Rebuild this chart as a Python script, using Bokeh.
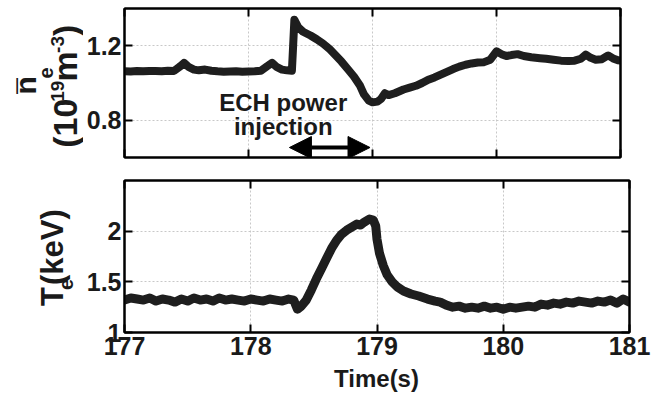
import math
from bokeh.plotting import figure
from bokeh.models import (Range1d, FixedTicker, LinearAxis, Label, Arrow, NormalHead,
                          CustomJSTickFormatter)
from bokeh.layouts import column, row
from bokeh.embed import file_html
from bokeh.resources import INLINE

# ---------------- data ----------------
x_ticks = [177, 178, 179, 180, 181]
ne_ticks = [0.8, 1.2]
te_ticks = [1, 1.5, 2]

t_ne = [177.00, 177.05, 177.10, 177.15, 177.20, 177.25, 177.30, 177.35, 177.40, 177.45,
        177.48, 177.52, 177.56, 177.60, 177.65, 177.70, 177.75, 177.80, 177.85, 177.90,
        177.95, 178.00, 178.05, 178.10, 178.15, 178.19, 178.23, 178.27, 178.31, 178.35,
        178.36, 178.37, 178.40, 178.44, 178.50, 178.55, 178.60, 178.65, 178.70, 178.75,
        178.80, 178.85, 178.90, 178.93, 178.97, 179.00, 179.04, 179.07, 179.10, 179.13,
        179.18, 179.25, 179.30, 179.35, 179.40, 179.45, 179.50, 179.55, 179.60, 179.65,
        179.70, 179.75, 179.80, 179.85, 179.90, 179.95, 180.00, 180.04, 180.08, 180.12,
        180.17, 180.22, 180.28, 180.35, 180.40, 180.46, 180.52, 180.58, 180.63, 180.68,
        180.72, 180.76, 180.80, 180.85, 180.90, 180.94, 180.98, 181.00]
ne = [1.063, 1.062, 1.064, 1.063, 1.065, 1.064, 1.063, 1.066, 1.065, 1.090,
      1.108, 1.085, 1.072, 1.068, 1.072, 1.066, 1.063, 1.061, 1.062, 1.063,
      1.061, 1.062, 1.063, 1.066, 1.090, 1.108, 1.085, 1.072, 1.068, 1.066,
      1.200, 1.340, 1.300, 1.275, 1.255, 1.235, 1.212, 1.185, 1.150, 1.115,
      1.075, 1.035, 0.985, 0.940, 0.905, 0.896, 0.900, 0.915, 0.945, 0.935,
      0.945, 0.965, 0.975, 0.985, 1.000, 1.018, 1.030, 1.045, 1.060, 1.075,
      1.088, 1.098, 1.105, 1.110, 1.112, 1.125, 1.170, 1.155, 1.145, 1.150,
      1.155, 1.145, 1.138, 1.133, 1.130, 1.125, 1.120, 1.118, 1.120, 1.130,
      1.152, 1.135, 1.125, 1.128, 1.148, 1.132, 1.122, 1.120]

t_te = [177.00, 177.05, 177.10, 177.15, 177.20, 177.25, 177.30, 177.35, 177.40, 177.45,
        177.50, 177.55, 177.60, 177.65, 177.70, 177.75, 177.80, 177.85, 177.90, 177.95,
        178.00, 178.05, 178.10, 178.15, 178.20, 178.25, 178.30, 178.34, 178.37, 178.40,
        178.44, 178.48, 178.52, 178.56, 178.60, 178.64, 178.68, 178.72, 178.76, 178.80,
        178.84, 178.87, 178.90, 178.94, 178.97, 178.99, 179.00, 179.02, 179.05, 179.08,
        179.12, 179.16, 179.21, 179.27, 179.33, 179.40, 179.46, 179.50, 179.55, 179.60,
        179.65, 179.70, 179.75, 179.80, 179.85, 179.90, 179.95, 180.00, 180.05, 180.10,
        180.15, 180.20, 180.25, 180.30, 180.35, 180.40, 180.45, 180.50, 180.55, 180.60,
        180.65, 180.70, 180.75, 180.80, 180.85, 180.90, 180.95, 181.00]
te = [1.32, 1.34, 1.33, 1.32, 1.34, 1.31, 1.33, 1.32, 1.30, 1.33,
      1.31, 1.34, 1.32, 1.33, 1.31, 1.34, 1.32, 1.33, 1.32, 1.31,
      1.33, 1.32, 1.31, 1.33, 1.32, 1.31, 1.33, 1.32, 1.23, 1.26,
      1.32, 1.42, 1.53, 1.63, 1.73, 1.83, 1.91, 1.97, 2.01, 2.04,
      2.07, 2.06, 2.09, 2.12, 2.11, 2.05, 1.92, 1.78, 1.66, 1.57,
      1.50, 1.45, 1.41, 1.38, 1.36, 1.33, 1.31, 1.30, 1.27, 1.25,
      1.26, 1.24, 1.25, 1.24, 1.26, 1.24, 1.25, 1.23, 1.25, 1.24,
      1.25, 1.26, 1.25, 1.28, 1.27, 1.29, 1.28, 1.30, 1.29, 1.31,
      1.30, 1.29, 1.31, 1.30, 1.32, 1.29, 1.33, 1.30]

ech_start, ech_end = 178.33, 178.98

FONT = "Liberation Sans"
INK = "#1a1a1a"
LINE = "#1e1e1e"
LW = 83          # width of the strip that holds the rotated y-axis titles
W = 655          # total width
H1, H2, H3 = 172, 192, 32
MID = 0.3465     # text-box centre above the baseline, in em


def style(p, yticks, show_x_labels):
    p.outline_line_color = "black"
    p.outline_line_width = 2
    p.xgrid.ticker = FixedTicker(ticks=x_ticks)
    p.ygrid.ticker = FixedTicker(ticks=yticks)
    for g in (p.xgrid, p.ygrid):
        g.grid_line_color = "#c8c8c8"
        g.grid_line_dash = "2 2"
        g.grid_line_width = 1
    for ax in p.xaxis + p.yaxis:
        ax.major_tick_in = 8
        ax.major_tick_out = 0
        ax.minor_tick_line_color = None
        ax.major_tick_line_width = 2
        ax.axis_line_width = 2
        ax.major_label_text_font = FONT
        ax.major_label_text_font_style = "bold"
        ax.major_label_text_font_size = "25px"
        ax.major_label_text_color = INK
    p.xaxis.ticker = FixedTicker(ticks=x_ticks)
    p.yaxis.ticker = FixedTicker(ticks=yticks)
    p.yaxis.major_label_standoff = 3
    p.xaxis.major_label_standoff = 4
    if not show_x_labels:
        p.xaxis.formatter = CustomJSTickFormatter(code="return ''")
        p.xaxis.major_label_text_font_size = "1px"
        p.xaxis.major_label_standoff = 0
    # mirrored axes with inward ticks, no labels
    for loc, tk in (("above", x_ticks), ("right", yticks)):
        ax = LinearAxis(ticker=FixedTicker(ticks=tk), major_tick_in=8, major_tick_out=0,
                        major_tick_line_width=2, minor_tick_line_color=None,
                        axis_line_width=2, major_label_text_font_size="1px",
                        formatter=CustomJSTickFormatter(code="return ''"),
                        major_label_standoff=0)
        p.add_layout(ax, loc)


def clabel(p, x, y, text, size, angle=0.0):
    p.add_layout(Label(x=x, y=y, text=text, text_font=FONT, text_font_style="bold",
                       text_font_size=f"{size}px", text_color=INK, angle=angle,
                       text_align="center", text_baseline="middle"))


class Strip:
    """blank canvas for titles; positions given in page pixels"""
    def __init__(self, width, height, x_left, y_top):
        self.x0, self.y0, self.h = x_left, y_top, height
        s = figure(width=width, height=height, output_backend="svg", toolbar_location=None,
                   x_range=Range1d(0, width), y_range=Range1d(0, height),
                   x_axis_type=None, y_axis_type=None,
                   min_border_left=0, min_border_right=0, min_border_top=0,
                   min_border_bottom=0)
        s.grid.visible = False
        s.outline_line_color = None
        self.fig = s

    def up(self, base_x, start_y, text, size, adv):
        """text rotated 90deg, baseline at page x base_x, starting at page y start_y"""
        cx = base_x - MID * size
        cy = start_y - adv * size / 2
        clabel(self.fig, cx - self.x0, self.y0 + self.h - cy, text, size, math.pi / 2)

    def flat(self, cx, base_y, text, size):
        cy = base_y - MID * size
        clabel(self.fig, cx - self.x0, self.y0 + self.h - cy, text, size)


# ---------------- top panel ----------------
p1 = figure(width=W - LW, height=H1, output_backend="svg", toolbar_location=None,
            x_range=Range1d(177, 181), y_range=Range1d(0.6, 1.4),
            min_border_left=122 - LW, min_border_right=W - 620, min_border_top=8,
            min_border_bottom=H1 - 157)
style(p1, ne_ticks, False)
p1.line(t_ne, ne, line_width=8, color=LINE, line_join="round", line_cap="round")


def fy1(py):
    return 1.4 - (py - 8) / (157 - 8) * 0.8


clabel(p1, 178.28, fy1(110 - MID * 24), "ECH power", 24)
clabel(p1, 178.28, fy1(134 - MID * 24), "injection", 24)
p1.add_layout(Arrow(start=NormalHead(size=22, fill_color="black", line_color="black"),
                    end=NormalHead(size=22, fill_color="black", line_color="black"),
                    x_start=ech_start, y_start=fy1(147), x_end=ech_end, y_end=fy1(147),
                    line_width=4, line_color="black"))

l1 = Strip(LW, H1, 0, 0)
# line 1: overlined n with subscript e
l1.up(35, 98, "n", 30, 0.611)
l1.up(17 + MID * 16 - 1, 97.5, "\u2014", 16, 1.0)
l1.up(52, 80, "e", 20, 0.556)
# line 2: (10^19 m^-3)
l1.up(76, 157, "(10", 34, 1.445)
l1.up(64, 106, "19", 19, 1.112)
l1.up(76, 82, "m", 34, 0.889)
l1.up(64, 50, "-3", 19, 0.889)
l1.up(76, 31, ")", 34, 0.333)

# ---------------- bottom panel ----------------
p2 = figure(width=W - LW, height=H2, output_backend="svg", toolbar_location=None,
            x_range=Range1d(177, 181), y_range=Range1d(1.0, 2.5),
            min_border_left=123 - LW, min_border_right=W - 629, min_border_top=180 - H1,
            min_border_bottom=H1 + H2 - 332)
style(p2, te_ticks, True)
p2.line(t_te, te, line_width=9, color=LINE, line_join="round", line_cap="round")

l2 = Strip(LW, H2, 0, H1)
l2.up(63, 328, "T", 31, 0.611)
l2.up(72, 309, "e", 20, 0.556)
l2.up(63, 294, "(keV)", 31, 2.445)

l3 = Strip(W, H3, 0, H1 + H2)
l3.flat(376, 386, "Time(s)", 24)

layout = column(row(l1.fig, p1), row(l2.fig, p2), l3.fig)
open("out.html", "w").write(file_html(layout, INLINE))
